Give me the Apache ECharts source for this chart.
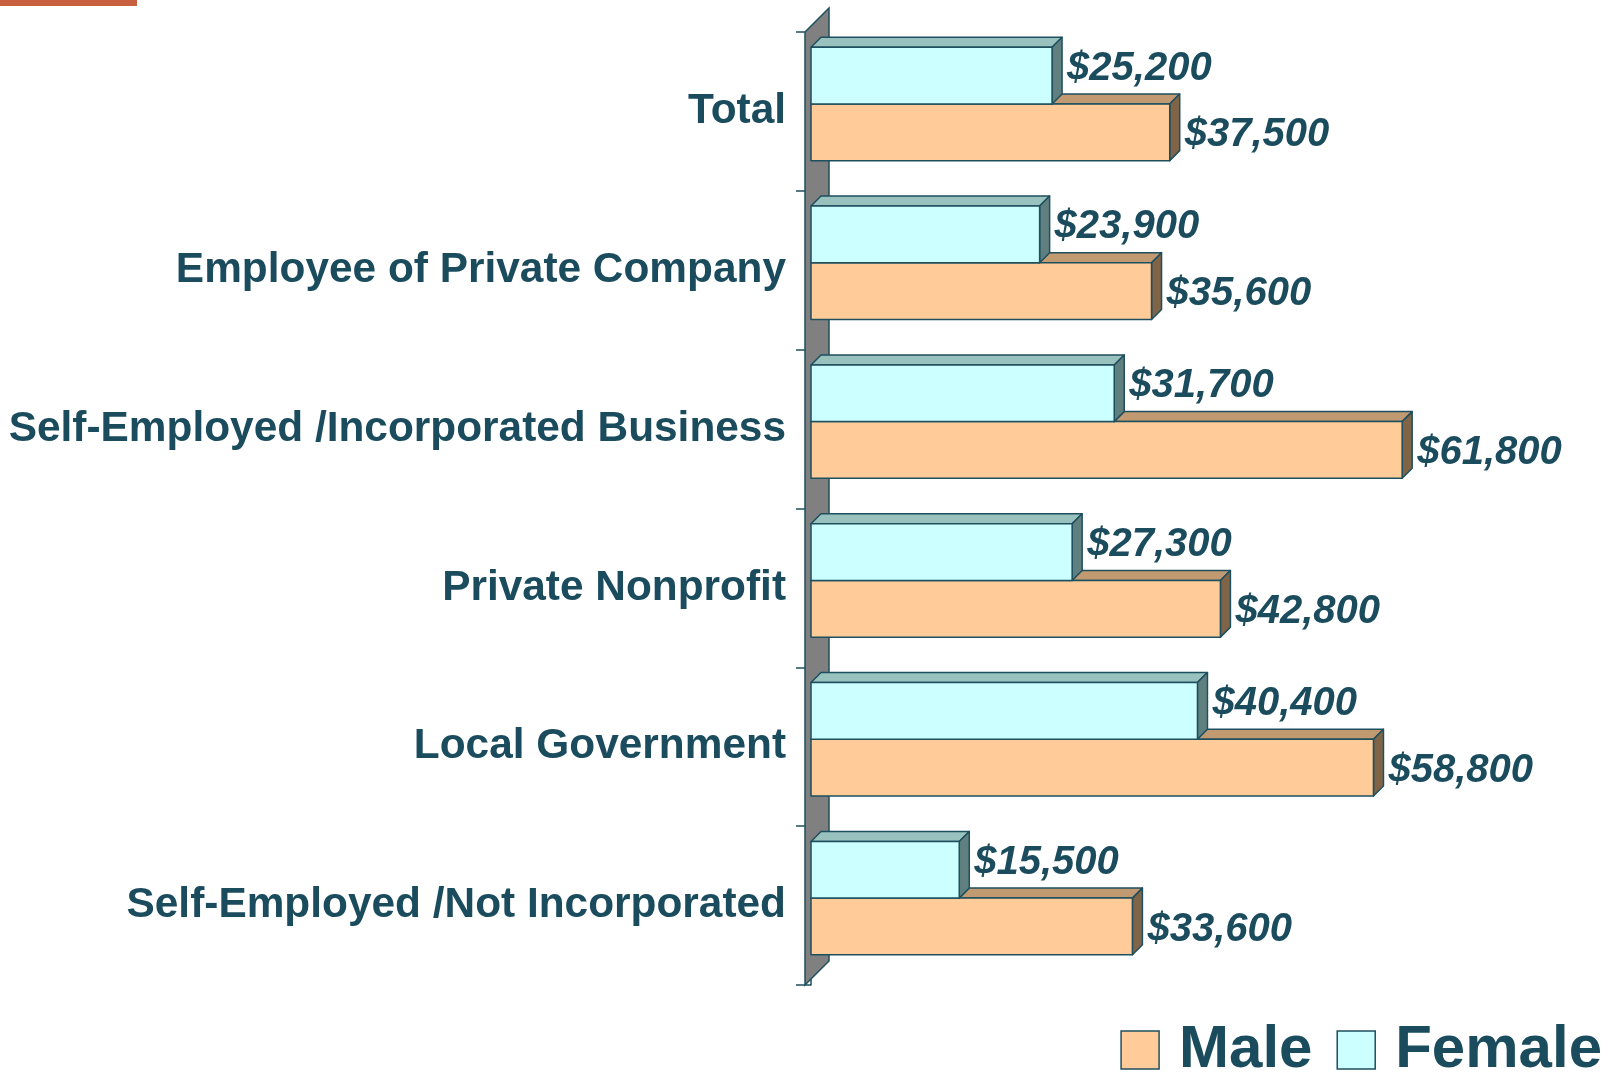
<!DOCTYPE html>
<html>
<head>
<meta charset="utf-8">
<script src="https://cdn.jsdelivr.net/npm/echarts@6/dist/echarts.min.js"></script>
<style>
html,body{margin:0;padding:0;background:#fff;}
#chart{width:1614px;height:1075px;}
</style>
</head>
<body>
<div id="chart"></div>
<script>
var categories = ['Total', 'Employee of Private Company', 'Self-Employed /Incorporated Business', 'Private Nonprofit', 'Local Government', 'Self-Employed /Not Incorporated'];
var maleValues = [37500, 35600, 61800, 42800, 58800, 33600];
var femaleValues = [25200, 23900, 31700, 27300, 40400, 15500];
var seriesNames = ['Male', 'Female'];

var INK = '#1B4C5E';
var STROKE = '#1E4F5F';
var DEPTH = 10;

function fmt(v) {
  return '$' + v.toLocaleString('en-US');
}

function makeBarRenderer(kind) {
  var colors = kind === 'male'
    ? { front: '#FFCC99', top: '#C29A72', side: '#806448' }
    : { front: '#CCFFFF', top: '#99C2BF', side: '#608080' };
  return function (params, api) {
    var idx = api.value(1);
    var val = api.value(0);
    var p0 = api.coord([0, idx]);
    var p1 = api.coord([val, idx]);
    var bw = api.size([0, 1])[1];
    var cy = p0[1];
    var top, bottom;
    if (kind === 'female') {
      top = cy - 0.404 * bw;
      bottom = cy - 0.047 * bw;
    } else {
      top = cy - 0.047 * bw;
      bottom = cy + 0.31 * bw;
    }
    var x0 = p0[0], x1 = p1[0], d = DEPTH;
    var lineStyle = { stroke: STROKE, lineWidth: 1.5, lineJoin: 'round' };
    var labelY = (top + bottom) / 2 + (kind === 'female' ? -7 : 3);
    return {
      type: 'group',
      children: [
        { type: 'polygon', shape: { points: [[x0, top], [x0 + d, top - d], [x1 + d, top - d], [x1, top]] },
          style: Object.assign({ fill: colors.top }, lineStyle) },
        { type: 'polygon', shape: { points: [[x1, top], [x1 + d, top - d], [x1 + d, bottom - d], [x1, bottom]] },
          style: Object.assign({ fill: colors.side }, lineStyle) },
        { type: 'rect', shape: { x: x0, y: top, width: x1 - x0, height: bottom - top },
          style: Object.assign({ fill: colors.front }, lineStyle) },
        { type: 'text', x: x1 + 15, y: labelY,
          style: { text: fmt(val), fill: INK, font: 'italic bold 40px "Liberation Sans", Arial, sans-serif',
                   verticalAlign: 'middle', align: 'left' } }
      ]
    };
  };
}

function wallRenderer(params, api) {
  var cs = params.coordSys;
  var lx = cs.x - 6, rx = lx + 24;
  var t = cs.y, b = cs.y + cs.height;
  return {
    type: 'polygon',
    shape: { points: [[lx, t], [rx, t - 24], [rx, b - 24], [lx, b]] },
    style: { fill: '#808080', stroke: STROKE, lineWidth: 1.5 }
  };
}

var chart = echarts.init(document.getElementById('chart'), null, { renderer: 'canvas' });
chart.setOption({
  animation: false,
  backgroundColor: '#ffffff',
  graphic: [
    { type: 'rect', left: 0, top: 0, shape: { width: 137, height: 6 }, style: { fill: '#C8603F' } }
  ],
  grid: { left: 811, right: 133.4, top: 32, bottom: 90, containLabel: false, outerBoundsMode: 'none' },
  xAxis: { type: 'value', min: 0, max: 70000, show: false },
  yAxis: {
    type: 'category',
    data: categories,
    inverse: true,
    offset: 6,
    axisLine: { show: true, lineStyle: { color: STROKE, width: 1.5 } },
    axisTick: { show: true, length: 15, lineStyle: { color: STROKE, width: 1.5 } },
    axisLabel: { margin: 19, color: INK, fontSize: 42.4, fontWeight: 'bold', fontFamily: '"Liberation Sans", Arial, sans-serif' }
  },
  legend: {
    data: [
      { name: 'Male', icon: 'rect', itemStyle: { color: '#FFCC99', borderColor: STROKE, borderWidth: 1.5 } },
      { name: 'Female', icon: 'rect', itemStyle: { color: '#CCFFFF', borderColor: STROKE, borderWidth: 1.5 } }
    ],
    right: 12,
    top: 1020,
    itemWidth: 38,
    itemHeight: 38,
    itemGap: 24,
    padding: 0,
    textStyle: { color: INK, fontSize: 60, fontWeight: 'bold', fontFamily: '"Liberation Sans", Arial, sans-serif', padding: [0, 0, 0, 15] }
  },
  series: [
    { type: 'custom', name: 'wall', renderItem: wallRenderer, data: [[0, 0]], silent: true, z: 1 },
    { type: 'custom', name: seriesNames[0], renderItem: makeBarRenderer('male'),
      itemStyle: { color: '#FFCC99' },
      data: maleValues.map(function (v, i) { return [v, i]; }), z: 2 },
    { type: 'custom', name: seriesNames[1], renderItem: makeBarRenderer('female'),
      itemStyle: { color: '#CCFFFF' },
      data: femaleValues.map(function (v, i) { return [v, i]; }), z: 3 }
  ]
});
</script>
</body>
</html>
